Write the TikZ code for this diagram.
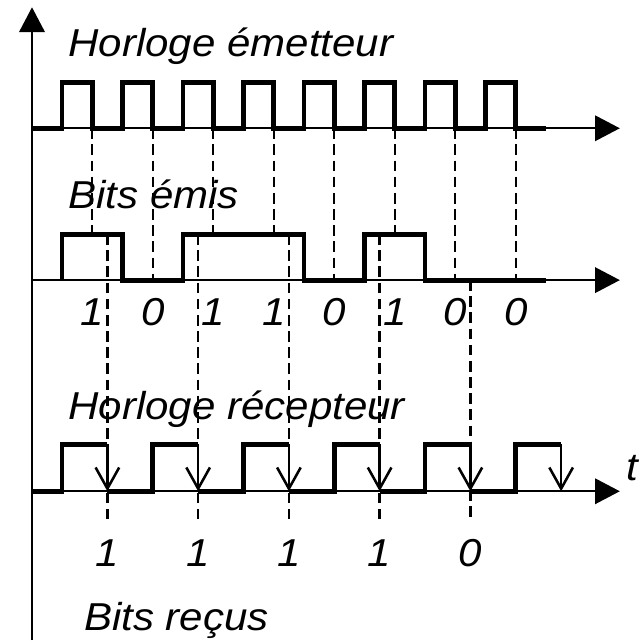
\documentclass[tikz,border=0pt]{standalone}
\usepackage{fontspec}
\setmainfont{Liberation Sans}
\usetikzlibrary{arrows.meta}

\tikzset{
  axe/.style={line width=1.1pt, -{Triangle[length=4.1mm, width=4.2mm]}},
  signal/.style={line width=2.3pt, line join=miter},
  repere/.style={line width=1.1pt, dash pattern=on 5pt off 2.6pt},
  front/.style={line width=1.1pt, -{Straight Barb[length=3.5mm, width=3.9mm, line width=1.2pt]}},
  texte/.style={font=\fontsize{18.3}{21}\selectfont\itshape, inner sep=0pt,
    xscale=1.08, transform shape},
}

\begin{document}
\begin{tikzpicture}

	\useasboundingbox (-1.025,0) rectangle (9.57,10.58);

	% Repères d'échantillonnage (horloge émetteur)
	\foreach \k/\b in {0/6.71,1/5.95,2/6.71,3/6.71,4/5.95,5/6.71,6/5.95,7/5.95} {
		\draw[repere] (\k+0.5,8.46) -- (\k+0.5,\b);
	}

	% Repères d'échantillonnage (horloge récepteur)
	\foreach \k/\b in {0/6.71,1/6.71,2/6.71,3/6.71,4/5.95} {
		\draw[repere] (1.5*\k+0.75,\b) -- (1.5*\k+0.75,1.97);
	}

	% Axes
	\draw[axe] (-0.496,0) -- (-0.496,10.46);
	\foreach \y in {8.46,5.95,2.46} {
		\draw[axe] (-0.496,\y) -- (9.22,\y);
	}

	% Horloge émetteur
	\draw[signal] (-0.496,8.46)
	\foreach \k in {0,...,7} { -- (\k,8.46) -- (\k,9.21) -- (\k+0.5,9.21) -- (\k+0.5,8.46) }
	-- (8,8.46);

	% Bits émis : 1 0 1 1 0 1 0 0
	\draw[signal] (0,5.95) -- (0,6.71) -- (1,6.71) -- (1,5.95) -- (2,5.95)
	-- (2,6.71) -- (4,6.71) -- (4,5.95) -- (5,5.95) -- (5,6.71) -- (6,6.71)
	-- (6,5.95) -- (8,5.95);

	% Horloge récepteur (front descendant = lecture)
	\foreach \k in {0,...,5} {
		\draw[signal] ({max(1.5*\k-0.75,-0.496)},2.46) -- (1.5*\k,2.46)
		-- (1.5*\k,3.24) -- (1.5*\k+0.75,3.24);
		\draw[front] (1.5*\k+0.75,3.24) -- (1.5*\k+0.75,2.46);
	}

	% Étiquettes
	\node[texte, anchor=base west] (he) at (0.1,9.64) {Horloge émetteur};
	\node[texte, anchor=base west] (be) at (0.1,7.14) {Bits émis};
	\node[texte, anchor=base west] (hr) at (0.1,3.64) {Horloge récepteur};
	\node[texte, anchor=base west] (br) at (0.36,0.165) {Bits reçus};
	\node[texte] (t) at (9.42,2.84) {t};

	\foreach \k/\v in {0/1,1/0,2/1,3/1,4/0,5/1,6/0,7/0} {
		\node[texte] (e\k) at (\k+0.5,5.42) {\v};
	}
	\foreach \k/\v in {0/1,1/1,2/1,3/1,4/0} {
		\node[texte] (r\k) at (1.5*\k+0.75,1.44) {\v};
	}

\end{tikzpicture}
\end{document}
